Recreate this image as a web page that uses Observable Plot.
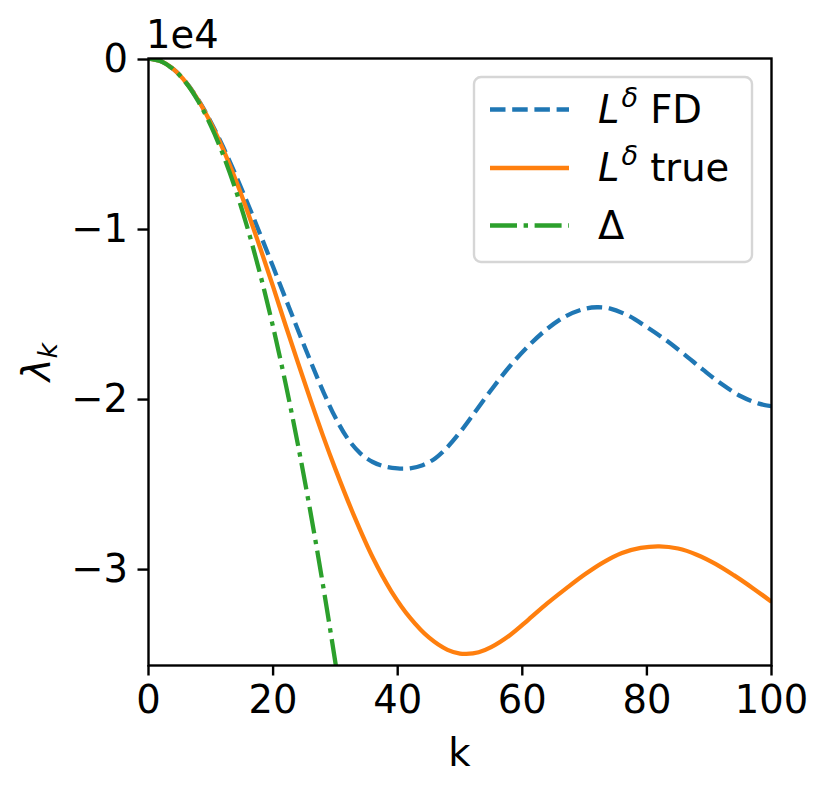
<!DOCTYPE html>
<html>
<head>
<meta charset="utf-8">
<script src="https://cdn.jsdelivr.net/npm/d3@7"></script>
<script src="https://cdn.jsdelivr.net/npm/@observablehq/plot@0.6"></script>
<style>
  html, body { margin: 0; padding: 0; background: white; }
  #chart { width: 829px; height: 793px; }
</style>
</head>
<body>
<div id="chart"></div>
<script>
// Values in units of 1e4
const kFD = [0,2,4,6,8,10,12,14,16,18,20,22,24,26,28,30,32,34,36,38,40,41,42,44,46,48,50,52,55,58,61,64,67,70,72,74,77,80,83,86,89,92,95,98,100];
const vFD = [0,-0.016,-0.063,-0.139,-0.243,-0.373,-0.522,-0.686,-0.860,-1.040,-1.225,-1.412,-1.598,-1.780,-1.955,-2.112,-2.237,-2.322,-2.373,-2.400,-2.411,-2.412,-2.410,-2.392,-2.352,-2.285,-2.198,-2.100,-1.950,-1.810,-1.690,-1.590,-1.515,-1.472,-1.463,-1.470,-1.512,-1.580,-1.655,-1.740,-1.830,-1.915,-1.985,-2.030,-2.045];

const kTrue = [0,2,4,6,8,10,12,14,16,18,20,22,24,26,28,30,33,36,39,42,45,48,50,51,53,55,58,61,64,67,70,73,76,79,82,85,88,91,94,97,100];
const vTrue = [0,-0.016,-0.063,-0.140,-0.246,-0.379,-0.536,-0.715,-0.911,-1.122,-1.342,-1.569,-1.790,-2.008,-2.218,-2.415,-2.690,-2.935,-3.135,-3.290,-3.405,-3.478,-3.500,-3.502,-3.492,-3.462,-3.392,-3.300,-3.205,-3.118,-3.035,-2.963,-2.908,-2.878,-2.869,-2.882,-2.918,-2.972,-3.040,-3.115,-3.195];

const kLap = [0,2,4,6,8,10,12,14,16,18,20,22,24,26,28,30,31];
const vLap = [0,-0.0158,-0.0632,-0.1421,-0.2527,-0.3948,-0.5685,-0.7738,-1.0107,-1.2791,-1.5791,-1.9107,-2.2739,-2.6687,-3.0951,-3.5531,-3.794];

const xTicks = [0,20,40,60,80,100];
const yTicks = [0,-1,-2,-3];
const seriesNames = ["FD", "true", "Δ"];

const toRows = (ks, vs) => ks.map((k, i) => ({k, v: vs[i]}));
const fdRows = toRows(kFD, vFD);
const trueRows = toRows(kTrue, vTrue);
const lapRows = toRows(kLap, vLap);

const C_FD = "#1f77b4", C_TRUE = "#ff7f0e", C_LAP = "#2ca02c";
const DASH = "15.5,6.7", DASHDOT = "27,6.6,4.4,6.6", LW = 4.3;
const FONT = "DejaVu Sans";
const FS = 38.5;
const FS_SMALL = 27;

const svg = Plot.plot({
  width: 829, height: 793,
  marginLeft: 148, marginRight: 58, marginTop: 58, marginBottom: 128,
  x: {domain: [0, 100]},
  y: {domain: [-3.57, 0]},
  style: {fontFamily: FONT, fontSize: FS + "px", background: "white", color: "black", overflow: "visible"},
  marks: [
    Plot.line(fdRows, {x: "k", y: "v", stroke: C_FD, strokeWidth: LW, strokeDasharray: DASH, strokeLinecap: "butt", curve: "catmull-rom", clip: true}),
    Plot.line(trueRows, {x: "k", y: "v", stroke: C_TRUE, strokeWidth: LW, strokeLinecap: "butt", curve: "catmull-rom", clip: true}),
    Plot.line(lapRows, {x: "k", y: "v", stroke: C_LAP, strokeWidth: LW, strokeDasharray: DASHDOT, strokeLinecap: "butt", curve: "catmull-rom", clip: true}),
    Plot.axisX({ticks: xTicks, tickSize: 10.5, tickPadding: 10, strokeWidth: 2.4, fontSize: FS, fontFamily: FONT, label: null, tickFormat: d => String(d)}),
    Plot.axisY({ticks: yTicks, tickSize: 10.5, tickPadding: 10, strokeWidth: 2.4, fontSize: FS, fontFamily: FONT, label: null, dy: 1, tickFormat: d => d === 0 ? "0" : "\u2212" + Math.abs(d)}),
    Plot.frame({stroke: "black", strokeWidth: 2.4})
  ]
});
document.getElementById("chart").appendChild(svg);

const s = d3.select(svg);
const addText = (x, y, anchor) => s.append("text").attr("x", x).attr("y", y).attr("text-anchor", anchor)
  .attr("font-family", FONT).attr("font-size", FS).attr("fill", "black");
// offset text
addText(146, 48, "start").text("1e4");
// x label
addText(459.5, 766, "middle").text("k");
// y label
const yl = s.append("text").attr("transform", "translate(50,362) rotate(-90)").attr("text-anchor", "middle")
  .attr("font-family", FONT).attr("font-size", FS).attr("fill", "black");
yl.append("tspan").attr("font-style", "italic").text("λ");
yl.append("tspan").attr("font-style", "italic").attr("font-size", FS_SMALL).attr("dy", 7).text("k");

// legend
const lg = s.append("g");
lg.append("rect").attr("x", 474).attr("y", 77).attr("width", 278).attr("height", 185).attr("rx", 7)
  .attr("fill", "white").attr("fill-opacity", 0.8).attr("stroke", "#d6d6d6").attr("stroke-width", 2.4);
const rows = [
  {y: 109.5, color: C_FD, dash: DASH, name: seriesNames[0], math: true},
  {y: 168, color: C_TRUE, dash: null, name: seriesNames[1], math: true},
  {y: 225.5, color: C_LAP, dash: DASHDOT, name: seriesNames[2], math: false}
];
rows.forEach(r => {
  const ln = lg.append("line").attr("x1", 490).attr("x2", 569).attr("y1", r.y).attr("y2", r.y)
    .attr("stroke", r.color).attr("stroke-width", LW).attr("stroke-linecap", "butt");
  if (r.dash) ln.attr("stroke-dasharray", r.dash);
  const t = lg.append("text").attr("x", 598).attr("y", r.y + 13).attr("text-anchor", "start")
    .attr("font-family", FONT).attr("font-size", FS).attr("fill", "black");
  if (r.math) {
    t.append("tspan").attr("font-style", "italic").text("L");
    t.append("tspan").attr("font-style", "italic").attr("font-size", FS_SMALL).attr("dy", -16).attr("dx", 2).text("δ");
    t.append("tspan").attr("dy", 16).text("\u00a0" + r.name);
  } else {
    t.text(r.name);
  }
});
</script>
</body>
</html>
